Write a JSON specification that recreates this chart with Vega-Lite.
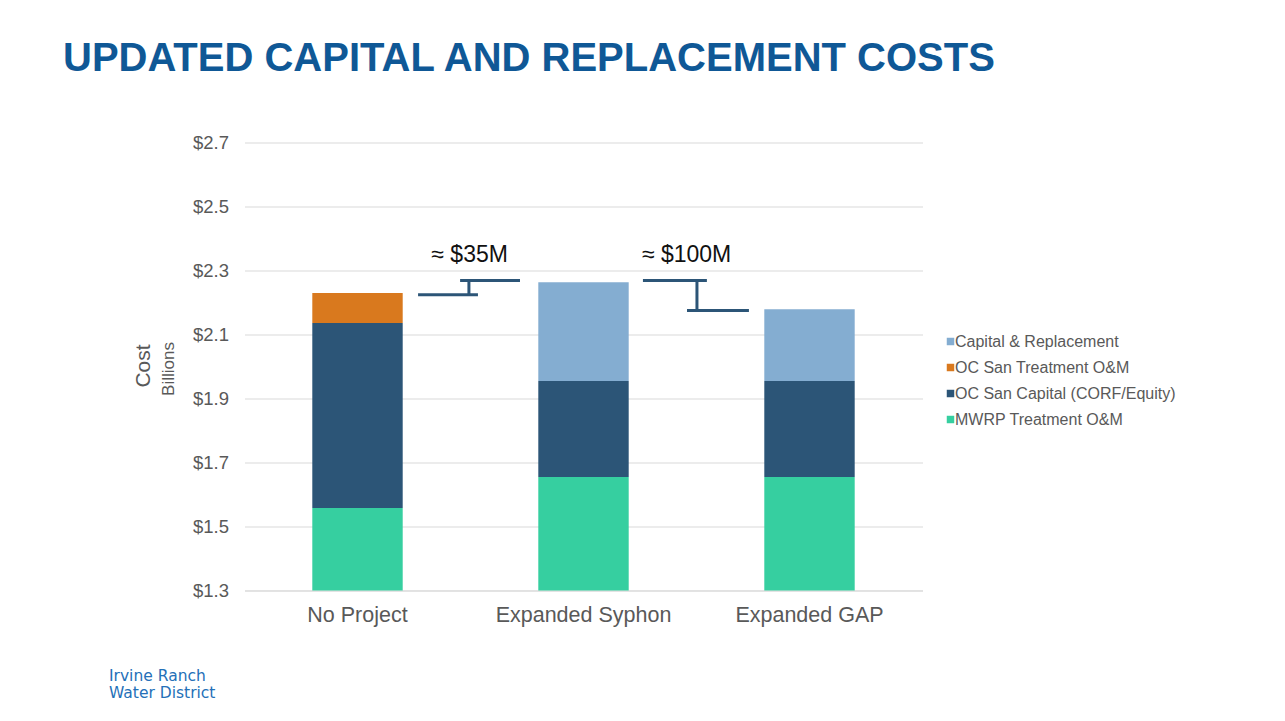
{
  "$schema": "https://vega.github.io/schema/vega-lite/v6.json",
  "width": 678,
  "height": 448,
  "autosize": {"type": "none"},
  "padding": {"left": 244.5, "top": 142.5, "right": 362.5, "bottom": 130.5},
  "background": "white",
  "config": {"font": "Liberation Sans", "view": {"stroke": null}},
  "title": {
    "text": "UPDATED CAPITAL AND REPLACEMENT COSTS",
    "anchor": "start",
    "frame": "group",
    "font": "Liberation Sans",
    "fontSize": 40,
    "fontWeight": "bold",
    "color": "#0f5896",
    "dx": -181.5,
    "offset": 23,
    "baseline": "alphabetic"
  },
  "datasets": {
    "costs": [
      {"scenario": "No Project", "component": "MWRP Treatment O&M", "rank": 1, "value": 1.558},
      {"scenario": "No Project", "component": "OC San Capital (CORF/Equity)", "rank": 2, "value": 0.578},
      {"scenario": "No Project", "component": "OC San Treatment O&M", "rank": 3, "value": 0.094},
      {"scenario": "Expanded Syphon", "component": "MWRP Treatment O&M", "rank": 1, "value": 1.655},
      {"scenario": "Expanded Syphon", "component": "OC San Capital (CORF/Equity)", "rank": 2, "value": 0.300},
      {"scenario": "Expanded Syphon", "component": "Capital & Replacement", "rank": 4, "value": 0.308},
      {"scenario": "Expanded GAP", "component": "MWRP Treatment O&M", "rank": 1, "value": 1.655},
      {"scenario": "Expanded GAP", "component": "OC San Capital (CORF/Equity)", "rank": 2, "value": 0.300},
      {"scenario": "Expanded GAP", "component": "Capital & Replacement", "rank": 4, "value": 0.224}
    ],
    "brackets": [
      {"x1": 0.768, "x2": 1.033, "y1": 2.224, "y2": 2.224},
      {"x1": 0.993, "x2": 0.993, "y1": 2.224, "y2": 2.269},
      {"x1": 0.954, "x2": 1.219, "y1": 2.269, "y2": 2.269},
      {"x1": 1.763, "x2": 2.046, "y1": 2.269, "y2": 2.269},
      {"x1": 2.002, "x2": 2.002, "y1": 2.269, "y2": 2.175},
      {"x1": 1.958, "x2": 2.232, "y1": 2.175, "y2": 2.175}
    ],
    "notes": [
      {"x": 0.996, "y": 2.348, "label": "≈ $35M"},
      {"x": 1.956, "y": 2.348, "label": "≈ $100M"}
    ]
  },
  "layer": [
    {
      "data": {"name": "costs"},
      "mark": {"type": "bar", "clip": true},
      "encoding": {
        "x": {
          "field": "scenario",
          "type": "nominal",
          "sort": ["No Project", "Expanded Syphon", "Expanded GAP"],
          "scale": {"paddingInner": 0.6, "paddingOuter": 0.3},
          "axis": {
            "labelFontSize": 21.5,
            "labelColor": "#595959",
            "labelAngle": 0,
            "labelPadding": 14,
            "ticks": false,
            "domain": true,
            "domainColor": "#d9d9d9",
            "domainWidth": 1,
            "grid": false,
            "title": ["Irvine Ranch", "Water District"],
            "titleFont": "DejaVu Sans",
            "titleFontSize": 15.5,
            "titleFontWeight": "normal",
            "titleColor": "#2470b8",
            "titleLineHeight": 16.6,
            "titleAlign": "left",
            "titleAnchor": "start",
            "titleBaseline": "alphabetic",
            "titleX": -136,
            "titleY": 90
          }
        },
        "y": {
          "field": "value",
          "type": "quantitative",
          "stack": "zero",
          "scale": {"domain": [1.3, 2.7], "nice": false, "zero": false},
          "axis": {
            "values": [1.3, 1.5, 1.7, 1.9, 2.1, 2.3, 2.5, 2.7],
            "labelExpr": "'$' + format(datum.value, '.1f')",
            "labelFontSize": 18.5,
            "labelColor": "#595959",
            "labelPadding": 16,
            "ticks": false,
            "domain": false,
            "grid": true,
            "gridColor": "#d9d9d9",
            "gridWidth": 1,
            "title": "Cost",
            "titleFontSize": 21,
            "titleFontWeight": "normal",
            "titleColor": "#595959",
            "titleAngle": -90,
            "titleAlign": "center",
            "titleBaseline": "middle",
            "titleX": -101,
            "titleY": 223
          }
        },
        "color": {
          "field": "component",
          "type": "nominal",
          "scale": {
            "domain": ["Capital & Replacement", "OC San Treatment O&M", "OC San Capital (CORF/Equity)", "MWRP Treatment O&M"],
            "range": ["#84add1", "#d9791e", "#2c5577", "#36cfa0"]
          },
          "legend": {
            "orient": "none",
            "legendX": 698,
            "legendY": 191,
            "title": null,
            "padding": 0,
            "labelFontSize": 16,
            "labelColor": "#595959",
            "labelOffset": -3.5,
            "labelLimit": 400,
            "symbolType": "square",
            "symbolSize": 56,
            "symbolStrokeWidth": 0,
            "rowPadding": 10
          }
        },
        "order": {"field": "rank", "type": "quantitative"}
      }
    },
    {
      "data": {"name": "brackets"},
      "mark": {"type": "rule", "stroke": "#2c5577", "strokeWidth": 3, "strokeCap": "butt"},
      "encoding": {
        "x": {"field": "x1", "type": "quantitative", "scale": {"domain": [0, 3], "nice": false, "zero": false}, "axis": null},
        "x2": {"field": "x2"},
        "y": {
          "field": "y1",
          "type": "quantitative",
          "axis": {
            "orient": "left",
            "labels": false,
            "ticks": false,
            "domain": false,
            "grid": false,
            "title": "Billions",
            "titleFontSize": 17,
            "titleFontWeight": "normal",
            "titleColor": "#595959",
            "titleAngle": -90,
            "titleAlign": "center",
            "titleBaseline": "middle",
            "titleX": -76,
            "titleY": 226
          }
        },
        "y2": {"field": "y2"}
      }
    },
    {
      "data": {"name": "notes"},
      "mark": {"type": "text", "fontSize": 23, "color": "#111111", "baseline": "middle", "align": "center"},
      "encoding": {
        "x": {"field": "x", "type": "quantitative", "scale": {"domain": [0, 3], "nice": false, "zero": false}, "axis": null},
        "y": {"field": "y", "type": "quantitative", "axis": null},
        "text": {"field": "label"}
      }
    }
  ],
  "resolve": {"scale": {"x": "independent"}, "axis": {"x": "independent", "y": "independent"}}
}
